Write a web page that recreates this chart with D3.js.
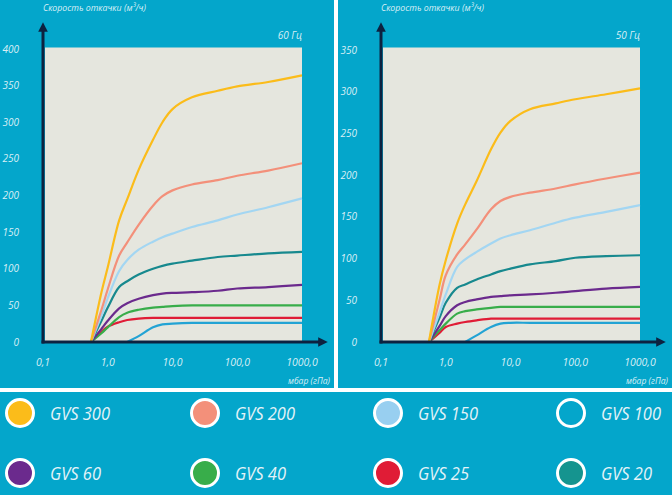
<!DOCTYPE html>
<html>
<head>
<meta charset="utf-8">
<script src="https://cdn.jsdelivr.net/npm/d3@7"></script>
<style>
  body { margin: 0; background: #fff; }
  svg { display: block; }
  text { font-family: "Open Sans", sans-serif; font-style: italic; }
</style>
</head>
<body>
<div id="my_dataviz"></div>
<script>
// pressure grid, mbar (hPa)
const pressure = [0.55, 0.8, 1, 1.5, 2, 3, 5, 7, 10, 20, 50, 100, 300, 1000];

const pumps = ["GVS 300", "GVS 200", "GVS 150", "GVS 100", "GVS 60", "GVS 40", "GVS 25", "GVS 20"];

// 60 Hz pumping speed, m3/h
const gvs300_60 = [0, 68, 102, 166, 195, 235, 276, 300, 318, 334, 343, 349, 355, 364];
const gvs200_60 = [0, 44, 72, 118, 136, 160, 186, 199, 207, 215, 221, 227, 234, 244];
const gvs150_60 = [0, 36, 60, 97, 112, 126, 137, 143, 148, 157, 166, 174, 184, 196];
const gvs100_60 = [null, null, null, null, 0, 8, 20, 24, 25, 26, 26, 26, 26, 26];
const gvs60_60  = [0, 18, 29, 46, 53, 59, 64, 66, 67, 68, 70, 73, 75, 78];
const gvs40_60  = [0, 12, 20, 34, 40, 44, 47, 48, 49, 50, 50, 50, 50, 50];
const gvs25_60  = [0, 14, 21, 27, 30, 32, 33, 33, 33, 33, 33, 33, 33, 33];
const gvs20_60  = [0, 29, 47, 75, 83, 92, 100, 104, 107, 111, 116, 118, 121, 123];

// 50 Hz pumping speed, m3/h
const gvs300_50 = [0, 68, 98, 142, 165, 193, 231, 251, 265, 279, 286, 291, 297, 304];
const gvs200_50 = [0, 50, 80, 105, 117, 135, 159, 169, 174, 179, 184, 189, 196, 203];
const gvs150_50 = [0, 35, 57, 90, 99, 108, 118, 124, 128, 134, 143, 149, 156, 164];
const gvs100_50 = [null, null, null, null, 0, 8, 18, 22, 23, 23, 23, 23, 23, 23];
const gvs60_50  = [0, 19, 31, 44, 48, 51, 54, 55, 56, 57, 59, 61, 64, 66];
const gvs40_50  = [0, 14, 22, 34, 37, 39, 41, 42, 42, 42, 42, 42, 42, 42];
const gvs25_50  = [0, 11, 18, 22, 24, 26, 28, 28, 28, 28, 28, 28, 28, 28];
const gvs20_50  = [0, 29, 47, 65, 69, 75, 81, 85, 88, 93, 97, 101, 103, 104];

const xTicks = [0.1, 1, 10, 100, 1000];
const xTickLabels = ["0,1", "1,0", "10,0", "100,0", "1000,0"];
const yTicks60 = [0, 50, 100, 150, 200, 250, 300, 350, 400];
const yTicks50 = [0, 50, 100, 150, 200, 250, 300, 350];

const legendFill = ["#fbbc1a", "#f3907a", "#98cff0", "#04a6cb", "#6b2a8d", "#38ad4a", "#e01c36", "#15948f"];
const lineColor  = ["#fbbc1a", "#f3907a", "#a3d6f2", "#22a3d4", "#6b2a8d", "#38ad4a", "#e01c36", "#17898e"];

const W = 672, H = 495;
const bg = "#04a6cb";
const navy = "#0d2240";
const light = "#d9eff6";

const svg = d3.select("#my_dataviz")
  .append("svg")
  .attr("width", W)
  .attr("height", H);

svg.append("rect").attr("width", W).attr("height", H).attr("fill", "#fff");

svg.append("defs").append("marker")
  .attr("id", "arrow")
  .attr("viewBox", "0 0 10 10")
  .attr("refX", 5).attr("refY", 5)
  .attr("markerWidth", 3.2).attr("markerHeight", 3.2)
  .attr("orient", "auto")
  .append("path")
  .attr("d", "M0,0L10,5L0,10z")
  .attr("fill", navy);

function drawPanel(o) {
  const g = svg.append("g").attr("transform", `translate(${o.left},0)`);

  g.append("rect")
    .attr("width", o.panelW).attr("height", 388)
    .attr("fill", bg);

  const x = d3.scaleLog().domain([0.1, 1000]).range([o.x0, o.x0 + 259]);
  const y = d3.scaleLinear().domain([0, o.yMax]).range([342, 50]);

  // plot background
  g.append("rect")
    .attr("x", o.x0 + 2).attr("y", 47.5)
    .attr("width", x(1000) - o.x0 - 2).attr("height", 342 - 47.5)
    .attr("fill", "#e5e6de");

  // curves
  const line = d3.line()
    .defined(d => d[1] != null)
    .x(d => x(d[0]))
    .y(d => y(d[1]))
    .curve(d3.curveCatmullRom.alpha(0.5));

  const order = [3, 6, 5, 4, 7, 2, 1, 0];
  order.forEach(i => {
    g.append("path")
      .datum(pressure.map((p, k) => [p, o.series[i][k]]))
      .attr("d", line)
      .attr("fill", "none")
      .attr("stroke", lineColor[i])
      .attr("stroke-width", 2.2)
      .attr("stroke-linejoin", "round");
  });

  // axes
  g.append("line")
    .attr("x1", o.x0).attr("y1", 343.5).attr("x2", o.x0).attr("y2", 27)
    .attr("stroke", navy).attr("stroke-width", 3)
    .attr("marker-end", "url(#arrow)");
  g.append("line")
    .attr("x1", o.x0 - 1.5).attr("y1", 342).attr("x2", o.x0 + 280).attr("y2", 342)
    .attr("stroke", navy).attr("stroke-width", 3)
    .attr("marker-end", "url(#arrow)");

  // y tick labels
  g.selectAll(".ytick")
    .data(o.yTicks)
    .join("text")
    .attr("x", o.x0 - 24)
    .attr("y", d => y(d) + 3.5)
    .attr("text-anchor", "end")
    .attr("font-size", 10)
    .attr("fill", light)
    .text(d => d);

  // x tick labels
  g.selectAll(".xtick")
    .data(xTicks)
    .join("text")
    .attr("x", d => x(d))
    .attr("y", 366)
    .attr("text-anchor", "middle")
    .attr("font-size", 10.5)
    .attr("fill", light)
    .text((d, i) => xTickLabels[i]);

  g.append("text")
    .attr("x", o.x0 + o.unitX).attr("y", 384)
    .attr("text-anchor", "end")
    .attr("font-size", 9.5)
    .attr("fill", light)
    .attr("textLength", 42).attr("lengthAdjust", "spacingAndGlyphs")
    .text("мбар (гПа)");

  g.append("text")
    .attr("x", o.x0).attr("y", 11)
    .attr("font-size", 9.5)
    .attr("fill", light)
    .attr("textLength", 103).attr("lengthAdjust", "spacingAndGlyphs")
    .text("Скорость откачки (м³/ч)");

  g.append("text")
    .attr("x", x(1000)).attr("y", 39)
    .attr("text-anchor", "end")
    .attr("font-size", 10)
    .attr("fill", light)
    .text(o.freq);
}

drawPanel({
  left: 0, panelW: 334, x0: 43, yMax: 400 * 292 / 293, yTicks: yTicks60, freq: "60 Гц", unitX: 287,
  series: [gvs300_60, gvs200_60, gvs150_60, gvs100_60, gvs60_60, gvs40_60, gvs25_60, gvs20_60]
});
drawPanel({
  left: 338, panelW: 334, x0: 43, yMax: 350, yTicks: yTicks50, freq: "50 Гц", unitX: 287,
  series: [gvs300_50, gvs200_50, gvs150_50, gvs100_50, gvs60_50, gvs40_50, gvs25_50, gvs20_50]
});

// legend
svg.append("rect")
  .attr("x", 0).attr("y", 392)
  .attr("width", W).attr("height", H - 392)
  .attr("fill", bg);

const colX = [20, 205, 388, 571];
const rowY = [413, 473];

const item = svg.selectAll(".legend")
  .data(pumps)
  .join("g")
  .attr("transform", (d, i) => `translate(${colX[i % 4]},${rowY[Math.floor(i / 4)]})`);

item.append("circle")
  .attr("r", 13.5)
  .attr("fill", (d, i) => legendFill[i])
  .attr("stroke", "#fff")
  .attr("stroke-width", 3);

item.append("text")
  .attr("x", 30)
  .attr("y", 7)
  .attr("font-size", 19)
  .attr("fill", "#e4f3f8")
  .attr("textLength", d => d.length === 7 ? 60 : 51)
  .attr("lengthAdjust", "spacingAndGlyphs")
  .text(d => d);
</script>
</body>
</html>
